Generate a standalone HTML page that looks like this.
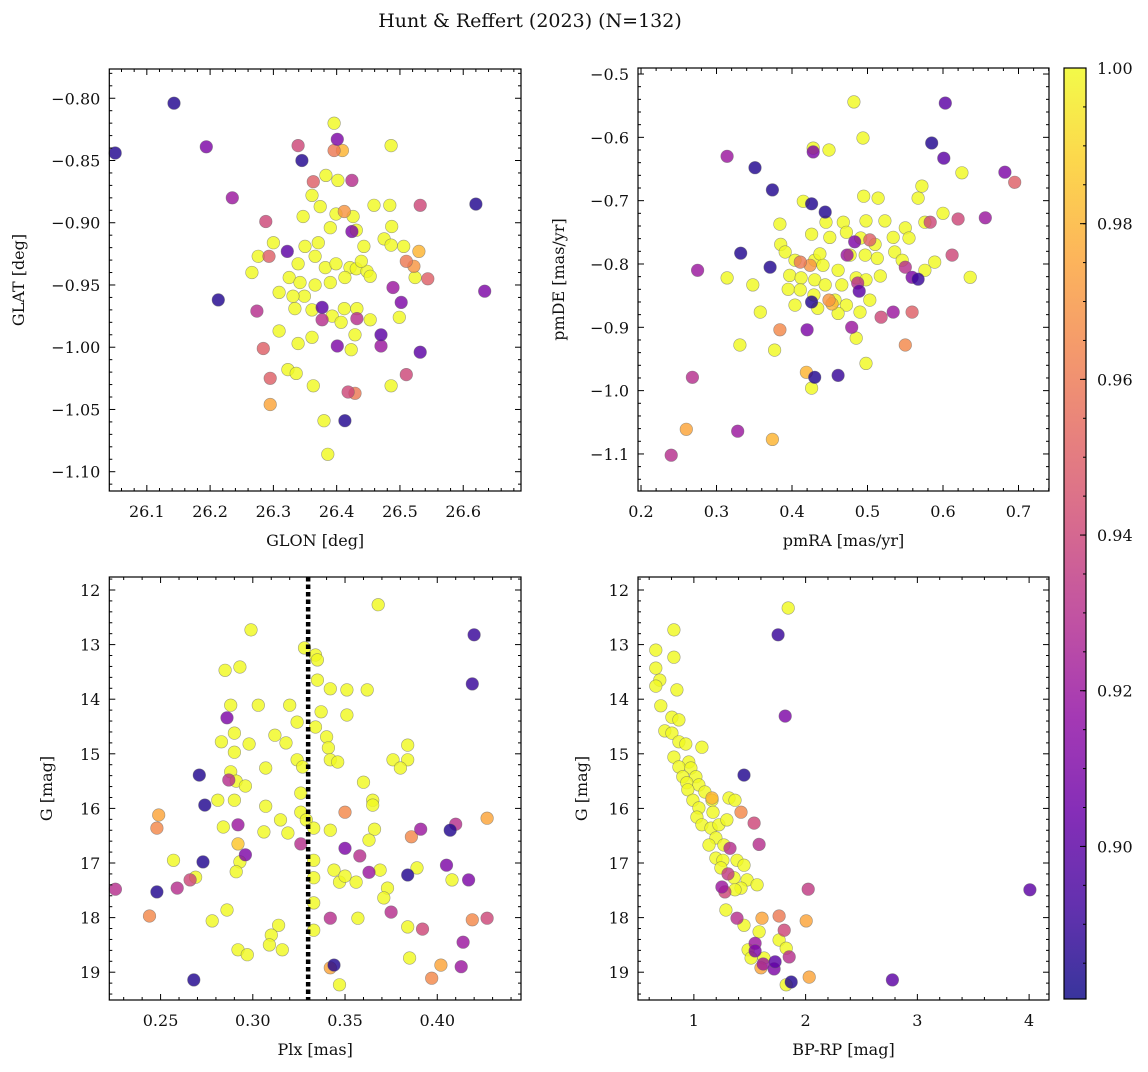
<!DOCTYPE html>
<html><head><meta charset="utf-8">
<style>
html,body{margin:0;padding:0;background:#fff;}
svg text{font-family:"DejaVu Serif","Liberation Serif",serif;fill:#111;}
</style></head>
<body>
<svg id="fig" width="1148" height="1067" viewBox="0 0 1148 1067" xmlns="http://www.w3.org/2000/svg">
<text x="530" y="27" font-size="19" text-anchor="middle">Hunt &amp; Reffert (2023) (N=132)</text>
</svg>
<script>
// ---------- data ----------
const p1GLON=[26.050,26.143,26.194,26.235,26.213,26.274,26.288,26.284,26.295,26.293,26.339,26.345,26.322,26.363,26.401,26.396,26.409,26.424,26.424,26.412,26.377,26.377,26.401,26.413,26.418,26.429,26.432,26.470,26.470,26.489,26.502,26.510,26.532,26.510,26.532,26.544,26.522,26.620,26.634,26.295,
26.396,26.486,26.383,26.402,26.361,26.374,26.347,26.399,26.426,26.459,26.484,26.431,26.487,26.475,26.486,26.443,26.390,26.300,26.276,26.266,26.325,26.339,26.350,26.371,26.366,26.382,26.399,26.421,26.431,26.413,26.390,26.366,26.349,26.342,26.331,26.309,26.334,26.361,26.393,26.407,26.432,26.412,26.448,26.453,26.439,26.524,26.506,26.499,26.453,26.429,26.361,26.339,26.309,26.323,26.336,26.363,26.380,26.386,26.486,26.423,26.530];
const p1GLAT=[-0.844,-0.804,-0.839,-0.880,-0.962,-0.971,-0.899,-1.001,-1.025,-0.927,-0.838,-0.850,-0.923,-0.867,-0.833,-0.842,-0.842,-0.866,-0.907,-0.891,-0.968,-0.978,-0.999,-1.059,-1.036,-1.037,-0.977,-0.990,-0.999,-0.952,-0.964,-1.022,-1.004,-0.931,-0.886,-0.945,-0.935,-0.885,-0.955,-1.046,
-0.820,-0.838,-0.862,-0.866,-0.878,-0.887,-0.895,-0.893,-0.895,-0.886,-0.886,-0.906,-0.903,-0.913,-0.918,-0.919,-0.904,-0.916,-0.927,-0.940,-0.944,-0.933,-0.919,-0.916,-0.927,-0.936,-0.933,-0.936,-0.937,-0.944,-0.948,-0.950,-0.959,-0.948,-0.959,-0.956,-0.969,-0.970,-0.975,-0.980,-0.969,-0.969,-0.939,-0.943,-0.931,-0.944,-0.919,-0.976,-0.978,-0.990,-0.992,-0.997,-0.987,-1.018,-1.021,-1.031,-1.059,-1.086,-1.031,-1.002,-0.923];
const p1Prob=[.885,.885,.91,.92,.885,.93,.94,.95,.95,.95,.94,.885,.90,.95,.91,.96,.98,.93,.91,.97,.90,.93,.91,.885,.94,.96,.93,.90,.92,.92,.91,.94,.90,.96,.94,.95,.97,.885,.91,.975,
1,1,1,1,1,1,1,1,1,1,1,1,1,1,1,1,1,1,1,1,1,1,1,1,1,1,1,1,1,1,1,1,1,1,1,1,1,1,1,1,1,1,1,1,1,1,1,1,1,1,1,1,1,1,1,1,1,1,1,1,.98];

const p2pmRA=[0.603,0.585,0.601,0.682,0.695,0.314,0.351,0.374,0.428,0.426,0.444,0.275,0.332,0.371,0.620,0.656,0.583,0.612,0.550,0.559,0.567,0.503,0.483,0.473,0.487,0.489,0.384,0.420,0.518,0.534,0.559,0.479,0.550,0.461,0.430,0.419,0.328,0.268,0.260,0.240,0.374,0.426,0.411,0.424,0.449,0.453,
0.482,0.494,0.428,0.449,0.625,0.572,0.567,0.495,0.514,0.415,0.600,0.445,0.468,0.498,0.523,0.534,0.550,0.555,0.384,0.426,0.450,0.472,0.491,0.510,0.477,0.497,0.513,0.536,0.546,0.576,0.589,0.385,0.391,0.404,0.430,0.437,0.441,0.461,0.397,0.412,0.430,0.444,0.466,0.485,0.498,0.517,0.395,0.411,0.429,0.457,0.472,0.503,0.348,0.314,0.404,0.434,0.461,0.490,0.485,0.498,0.377,0.331,0.426,0.636,0.576,0.358];
const p2pmDE=[-0.546,-0.609,-0.633,-0.655,-0.671,-0.630,-0.648,-0.683,-0.623,-0.705,-0.718,-0.810,-0.783,-0.805,-0.729,-0.727,-0.734,-0.786,-0.805,-0.821,-0.824,-0.762,-0.765,-0.786,-0.830,-0.843,-0.904,-0.904,-0.884,-0.876,-0.876,-0.900,-0.928,-0.976,-0.979,-0.971,-1.064,-0.979,-1.061,-1.102,-1.077,-0.860,-0.797,-0.802,-0.857,-0.863,
-0.544,-0.601,-0.617,-0.620,-0.656,-0.677,-0.696,-0.693,-0.696,-0.701,-0.720,-0.734,-0.734,-0.732,-0.732,-0.758,-0.743,-0.759,-0.737,-0.753,-0.758,-0.750,-0.759,-0.769,-0.786,-0.786,-0.791,-0.781,-0.794,-0.810,-0.797,-0.769,-0.781,-0.794,-0.794,-0.784,-0.802,-0.810,-0.818,-0.822,-0.825,-0.833,-0.833,-0.822,-0.825,-0.819,-0.840,-0.841,-0.849,-0.857,-0.865,-0.857,-0.833,-0.822,-0.865,-0.870,-0.878,-0.876,-0.917,-0.957,-0.936,-0.928,-0.996,-0.821,-0.734,-0.876];
const p2Prob=[.90,.885,.90,.91,.95,.92,.885,.885,.91,.885,.885,.92,.885,.885,.94,.92,.94,.94,.93,.91,.89,.95,.91,.92,.93,.90,.965,.91,.94,.92,.95,.92,.965,.89,.885,.98,.92,.93,.975,.93,.98,.885,.96,.97,.97,.98,
1,1,1,1,1,1,1,1,1,1,1,1,1,1,1,1,1,1,1,1,1,1,1,1,1,1,1,1,1,1,1,1,1,1,1,1,1,1,1,1,1,1,1,1,1,1,1,1,1,1,1,1,1,1,1,1,1,1,1,1,1,1,1,1,1,1];

const p3Plx=[0.420,0.419,0.271,0.286,0.274,0.248,0.249,0.287,0.296,0.273,0.2255,0.248,0.259,0.266,0.244,0.268,0.292,0.384,0.391,0.407,0.405,0.417,0.410,0.427,0.419,0.427,0.414,0.413,0.402,0.397,0.392,0.386,0.375,0.358,0.363,0.350,0.350,0.342,0.342,0.344,0.326,0.292,
0.368,0.299,0.328,0.334,0.335,0.335,0.293,0.285,0.337,0.351,0.342,0.362,0.288,0.303,0.320,0.324,0.351,0.334,0.312,0.290,0.298,0.283,0.318,0.290,0.340,0.341,0.324,0.342,0.346,0.327,0.384,0.384,0.376,0.380,0.307,0.288,0.291,0.296,0.290,0.281,0.360,0.365,0.365,0.326,0.307,0.326,0.315,0.319,0.329,0.333,0.342,0.284,0.306,0.366,0.363,0.257,0.293,0.269,0.291,0.333,0.333,0.344,0.347,0.350,0.369,0.356,0.373,0.371,0.389,0.357,0.333,0.314,0.310,0.309,0.292,0.297,0.316,0.333,0.384,0.385,0.347,0.278,0.286,0.408];
const p3G=[12.82,13.72,15.39,14.34,15.94,16.36,16.12,15.48,16.85,16.98,17.48,17.53,17.46,17.31,17.97,19.14,16.30,17.22,16.38,16.40,17.04,17.31,16.29,16.18,18.04,18.01,18.45,18.90,18.87,19.11,18.21,16.52,17.90,16.87,17.17,16.73,16.07,18.01,18.92,18.87,16.65,16.65,
12.27,12.73,13.06,13.19,13.28,13.65,13.41,13.47,14.23,13.83,13.81,13.83,14.11,14.11,14.11,14.42,14.29,14.51,14.66,14.62,14.82,14.78,14.80,14.97,14.69,14.89,15.11,15.11,15.15,15.24,14.84,15.11,15.11,15.26,15.26,15.33,15.50,15.59,15.85,15.85,15.52,15.85,15.94,15.72,15.96,16.07,16.21,16.45,16.21,16.36,16.40,16.34,16.43,16.38,16.58,16.95,16.98,17.26,17.16,16.95,17.27,17.13,17.35,17.24,17.13,17.35,17.46,17.64,17.09,18.01,18.23,18.14,18.32,18.50,18.59,18.68,18.59,17.73,18.17,18.74,19.23,18.06,17.86,17.31];
const p3Prob=[.89,.89,.885,.91,.885,.965,.975,.93,.91,.885,.93,.885,.93,.94,.965,.885,.92,.885,.92,.885,.91,.91,.93,.975,.965,.94,.92,.92,.975,.965,.94,.965,.93,.93,.92,.91,.965,.93,.975,.885,.93,.985,
1,1,1,1,1,1,1,1,1,1,1,1,1,1,1,1,1,1,1,1,1,1,1,1,1,1,1,1,1,1,1,1,1,1,1,1,1,1,1,1,1,1,1,1,1,1,1,1,1,1,1,1,1,1,1,1,1,1,1,1,1,1,1,1,1,1,1,1,1,1,1,1,1,1,1,1,1,1,1,1,1,1,1,1,1];
const plxMean=0.330;

const p4Color=[1.754,1.817,1.449,1.422,1.539,1.323,1.305,1.251,1.278,1.386,1.610,1.763,1.808,2.023,2.005,2.032,1.853,1.548,1.548,1.620,1.727,1.718,1.601,1.871,2.777,4.007,1.584,1.162,
0.659,0.659,0.695,0.659,0.704,0.821,0.821,0.848,0.803,0.866,0.740,0.803,0.866,0.928,1.072,0.821,0.955,0.866,0.973,0.901,1.018,0.937,1.045,0.946,1.099,0.991,1.162,1.045,1.314,1.368,1.171,1.027,1.072,1.153,1.224,1.296,1.197,1.269,1.135,1.197,1.260,1.242,1.386,1.449,1.359,1.476,1.422,1.566,1.287,1.449,1.584,1.485,1.512,1.628,1.763,1.826,1.844,1.826,1.368];
const p4G=[12.82,14.31,15.39,16.07,16.27,16.73,17.20,17.44,17.53,18.01,18.01,17.97,18.23,17.48,18.06,19.09,18.72,18.47,18.61,18.85,18.81,18.94,18.92,19.18,19.14,17.49,16.66,15.81,
13.10,13.43,13.65,13.76,14.12,13.23,12.73,13.83,14.33,14.38,14.58,14.62,14.78,14.82,14.88,15.06,15.15,15.24,15.26,15.42,15.42,15.53,15.57,15.66,15.70,15.85,15.85,15.99,15.81,15.85,16.07,16.16,16.30,16.36,16.30,16.21,16.54,16.67,16.67,16.91,16.95,17.09,16.95,17.04,17.27,17.31,17.46,17.40,17.86,18.14,18.26,18.59,18.74,18.74,18.41,18.56,12.33,19.23,17.49];
const p4Prob=[.89,.91,.885,.965,.94,.93,.935,.92,.94,.93,.975,.96,.94,.935,.975,.975,.93,.92,.91,.92,.90,.91,.975,.885,.90,.90,.93,.98,
1,1,1,1,1,1,1,1,1,1,1,1,1,1,1,1,1,1,1,1,1,1,1,1,1,1,1,1,1,1,1,1,1,1,1,1,1,1,1,1,1,1,1,1,1,1,1,1,1,1,1,1,1,1,1,1,1,1,1,1,1];

const cbTicks=[0.90,0.92,0.94,0.96,0.98,1.00];
const vmin=0.8804, vmax=1.0;

// ---------- helpers ----------
const NS='http://www.w3.org/2000/svg';
const svg=document.getElementById('fig');
function mk(tag,attrs,parent){const e=document.createElementNS(NS,tag);for(const k in attrs)e.setAttribute(k,attrs[k]);(parent||svg).appendChild(e);return e;}
const plasma=[[0,[13,8,135]],[0.1,[65,4,157]],[0.2,[106,0,168]],[0.3,[143,13,164]],[0.4,[177,42,144]],[0.5,[204,71,120]],[0.6,[225,100,98]],[0.7,[242,132,75]],[0.8,[252,166,54]],[0.9,[252,206,37]],[1,[240,249,33]]];
function cmap(v){let t=(v-vmin)/(vmax-vmin);t=Math.max(0,Math.min(1,t));
 for(let i=1;i<plasma.length;i++){if(t<=plasma[i][0]){const a=plasma[i-1],b=plasma[i];const f=(t-a[0])/(b[0]-a[0]);
 const c=a[1].map((x,j)=>Math.round(x+(b[1][j]-x)*f));return 'rgb('+c.join(',')+')';}}return 'rgb(240,249,33)';}
function fmt(v,d){const s=v.toFixed(d);return s.startsWith('-')?'\u2212'+s.slice(1):s;}

function panel(o){
 const g=mk('g',{});
 
 
 const L=o.x0,R=o.x1,T=o.y0,B=o.y1;
 const sx=v=>L+(v-o.xmin)/(o.xmax-o.xmin)*(R-L);
 const sy=o.yinv? (v=>T+(v-o.ymin)/(o.ymax-o.ymin)*(B-T)) : (v=>B-(v-o.ymin)/(o.ymax-o.ymin)*(B-T));
 const pts=mk('g',{},g);
 
 
 const idx=o.xs.map((_,i)=>i).sort((a,b)=>o.ps[b]-o.ps[a]);
 idx.forEach(i=>{
  const c=mk('circle',{cx:sx(o.xs[i]).toFixed(1),cy:sy(o.ys[i]).toFixed(1),r:6.3,fill:cmap(o.ps[i]),'fill-opacity':0.82,stroke:'#666','stroke-opacity':0.6,'stroke-width':0.6},pts);
  
  
 });
 if(o.vline!==undefined){
  const l=mk('line',{x1:sx(o.vline),x2:sx(o.vline),y1:T,y2:B,stroke:'#000','stroke-width':4.5,'stroke-dasharray':'4.5,3'},g);
  
  
 }
 const fr=mk('rect',{x:L,y:T,width:R-L,height:B-T,fill:'none',stroke:'#000','stroke-width':1.2},g);
 
 
 const eps=1e-9;
 for(let v=Math.ceil(o.xmin/o.xminor-eps)*o.xminor;v<=o.xmax+eps;v+=o.xminor){
  const x=sx(v);const major=Math.abs(v/o.xmajor-Math.round(v/o.xmajor))<1e-4;const len=major?6:3;
  mk('line',{x1:x,x2:x,y1:B,y2:B-len,stroke:'#000','stroke-width':1},g);
  mk('line',{x1:x,x2:x,y1:T,y2:T+len,stroke:'#000','stroke-width':1},g);
  if(major){const t=mk('text',{x:x,y:B+26,'font-size':16,'text-anchor':'middle'},g);t.textContent=fmt(v,o.xdec);
   
   }
 }
 for(let v=Math.ceil(o.ymin/o.yminor-eps)*o.yminor;v<=o.ymax+eps;v+=o.yminor){
  const y=sy(v);const major=Math.abs(v/o.ymajor-Math.round(v/o.ymajor))<1e-4;const len=major?6:3;
  mk('line',{x1:L,x2:L+len,y1:y,y2:y,stroke:'#000','stroke-width':1},g);
  mk('line',{x1:R,x2:R-len,y1:y,y2:y,stroke:'#000','stroke-width':1},g);
  if(major){const t=mk('text',{x:L-9,y:y+6,'font-size':16,'text-anchor':'end'},g);t.textContent=fmt(v,o.ydec);
   
   }
 }
 const xl=mk('text',{x:(L+R)/2,y:B+55,'font-size':16,'text-anchor':'middle'},g);xl.textContent=o.xlabel;
 
 
 const yl=mk('text',{x:0,y:0,'font-size':16,'text-anchor':'middle',transform:`translate(${o.ylx},${(T+B)/2}) rotate(-90)`},g);yl.textContent=o.ylabel;
 
 
}

panel({name:'panel-glon-glat',x0:109.3,x1:521,y0:69,y1:491,xmin:26.0407,xmax:26.6913,ymin:-1.1155,ymax:-0.7765,xs:p1GLON,ys:p1GLAT,ps:p1Prob,
 xmajor:0.1,xminor:0.02,xdec:1,ymajor:0.05,yminor:0.01,ydec:2,xlabel:'GLON [deg]',ylabel:'GLAT [deg]',ylx:24});
panel({name:'panel-pmra-pmde',x0:638,x1:1049,y0:68,y1:491,xmin:0.196,xmax:0.7404,ymin:-1.1585,ymax:-0.4905,xs:p2pmRA,ys:p2pmDE,ps:p2Prob,
 xmajor:0.1,xminor:0.02,xdec:1,ymajor:0.1,yminor:0.02,ydec:1,xlabel:'pmRA [mas/yr]',ylabel:'pmDE [mas/yr]',ylx:564});
panel({name:'panel-plx-g',x0:109.3,x1:521,y0:577,y1:1000,xmin:0.2222,xmax:0.4454,ymin:11.762,ymax:19.509,yinv:true,xs:p3Plx,ys:p3G,ps:p3Prob,vline:plxMean,
 xmajor:0.05,xminor:0.01,xdec:2,ymajor:1,yminor:0.2,ydec:0,xlabel:'Plx [mas]',ylabel:'G [mag]',ylx:52});
panel({name:'panel-color-magnitude',x0:638,x1:1049,y0:577,y1:1000,xmin:0.5,xmax:4.178,ymin:11.762,ymax:19.509,yinv:true,xs:p4Color,ys:p4G,ps:p4Prob,
 xmajor:1,xminor:0.2,xdec:0,ymajor:1,yminor:0.2,ydec:0,xlabel:'BP-RP [mag]',ylabel:'G [mag]',ylx:587});

// ---------- colorbar ----------
(function(){
 const g=mk('g',{});
 
 
 const L=1064,R=1086,T=68,B=999;
 const defs=mk('defs',{},g);
 const lg=mk('linearGradient',{id:'cbg',x1:0,y1:1,x2:0,y2:0},defs);
 for(let i=0;i<=20;i++){const t=i/20;mk('stop',{offset:t,'stop-color':cmap(vmin+t*(vmax-vmin)),'stop-opacity':0.82},lg);}
 mk('rect',{x:L,y:T,width:R-L,height:B-T,fill:'url(#cbg)',stroke:'#000','stroke-width':1.2},g);
 const sy=v=>B-(v-vmin)/(vmax-vmin)*(B-T);
 for(let v=0.885;v<=1.0001;v+=0.005){const y=sy(v);mk('line',{x1:R,x2:R-3,y1:y,y2:y,stroke:'#000','stroke-width':1},g);}
 cbTicks.forEach(v=>{const y=sy(v);mk('line',{x1:R,x2:R-6,y1:y,y2:y,stroke:'#000','stroke-width':1},g);
  const t=mk('text',{x:R+11,y:y+6,'font-size':16},g);t.textContent=v.toFixed(2);
  
  });
})();
</script>
</body></html>
